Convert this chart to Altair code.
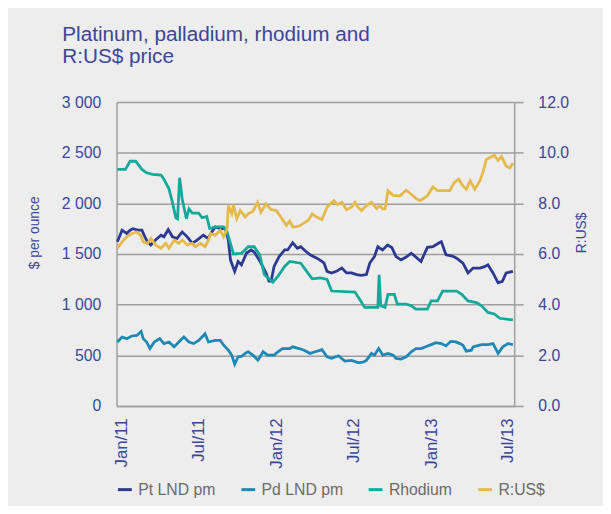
import altair as alt
import pandas as pd

# ---- data ----
pt_dates = ["2010-12-22", "2011-01-02", "2011-01-13", "2011-01-21", "2011-01-28", "2011-02-10", "2011-02-18",
            "2011-02-25", "2011-03-03", "2011-03-11", "2011-03-22", "2011-04-04", "2011-04-11", "2011-04-21",
            "2011-05-01", "2011-05-12", "2011-05-24", "2011-06-05", "2011-06-17", "2011-06-28", "2011-07-13",
            "2011-07-24", "2011-08-02", "2011-08-10", "2011-08-22", "2011-09-03", "2011-09-10", "2011-09-15",
            "2011-09-25", "2011-10-03", "2011-10-11", "2011-10-23", "2011-11-03", "2011-11-10", "2011-11-19",
            "2011-11-26", "2011-12-08", "2011-12-15", "2011-12-20", "2011-12-27", "2012-01-08", "2012-01-21",
            "2012-01-28", "2012-02-09", "2012-02-20", "2012-02-28", "2012-03-10", "2012-03-21", "2012-04-06",
            "2012-04-18", "2012-04-23", "2012-04-30", "2012-05-11", "2012-05-22", "2012-06-04", "2012-06-15",
            "2012-06-27", "2012-07-09", "2012-07-20", "2012-08-01", "2012-08-09", "2012-08-20", "2012-08-28",
            "2012-09-08", "2012-09-20", "2012-09-30", "2012-10-10", "2012-10-22", "2012-11-03", "2012-11-15",
            "2012-11-26", "2012-12-08", "2012-12-23", "2013-01-05", "2013-01-20", "2013-01-25", "2013-02-05",
            "2013-02-20", "2013-03-02", "2013-03-17", "2013-03-29", "2013-04-10", "2013-04-26", "2013-05-07",
            "2013-05-15", "2013-05-27", "2013-06-08", "2013-06-18", "2013-06-27", "2013-07-13"]
pt_vals = [1621, 1735, 1703, 1735, 1751, 1735, 1735,
           1670, 1621, 1589, 1638, 1686, 1670, 1742,
           1670, 1654, 1718, 1670, 1605, 1638, 1686,
           1654, 1718, 1767, 1751, 1751, 1638, 1443,
           1329, 1427, 1394, 1510, 1540, 1520, 1460,
           1411, 1313, 1232, 1232, 1378, 1475, 1540,
           1540, 1611, 1557, 1572, 1530, 1492, 1459,
           1427, 1411, 1329, 1313, 1329, 1362, 1313,
           1313, 1297, 1290, 1297, 1411, 1475, 1572,
           1540, 1589, 1565, 1475, 1443, 1470, 1508,
           1470, 1427, 1566, 1572, 1611, 1621, 1492,
           1480, 1459, 1411, 1313, 1362, 1362, 1375,
           1394, 1313, 1216, 1230, 1313, 1329]

pd_dates = ["2010-12-22", "2011-01-02", "2011-01-13", "2011-01-25", "2011-02-06", "2011-02-16", "2011-02-21",
            "2011-03-01", "2011-03-09", "2011-03-19", "2011-04-01", "2011-04-11", "2011-04-23", "2011-05-05",
            "2011-05-16", "2011-05-28", "2011-06-09", "2011-06-20", "2011-07-02", "2011-07-17", "2011-07-25",
            "2011-08-10", "2011-08-22", "2011-08-30", "2011-09-10", "2011-09-18", "2011-09-25", "2011-10-03",
            "2011-10-11", "2011-10-23", "2011-10-27", "2011-11-07", "2011-11-19", "2011-12-01", "2011-12-12",
            "2011-12-27", "2012-01-05", "2012-01-16", "2012-02-02", "2012-02-09", "2012-02-24", "2012-03-07",
            "2012-03-21", "2012-04-02", "2012-04-15", "2012-04-18", "2012-04-30", "2012-05-11", "2012-05-27",
            "2012-06-11", "2012-06-27", "2012-07-12", "2012-07-24", "2012-08-01", "2012-08-13", "2012-08-20",
            "2012-08-30", "2012-09-09", "2012-09-21", "2012-10-03", "2012-10-10", "2012-10-22", "2012-11-03",
            "2012-11-15", "2012-11-26", "2012-12-08", "2012-12-19", "2013-01-01", "2013-01-12", "2013-01-25",
            "2013-02-05", "2013-02-16", "2013-02-28", "2013-03-10", "2013-03-17", "2013-03-25", "2013-04-06",
            "2013-04-10", "2013-04-30", "2013-05-15", "2013-05-27", "2013-06-08", "2013-06-19", "2013-07-01",
            "2013-07-13"]
pd_vals = [632, 681, 665, 691, 697, 736, 665,
           632, 567, 632, 665, 616, 632, 584,
           632, 681, 632, 616, 648, 713, 632,
           648, 648, 600, 551, 502, 412, 486,
           490, 528, 535, 502, 453, 535, 502,
           502, 535, 567, 567, 584, 567, 551,
           519, 535, 551, 558, 486, 470, 496,
           444, 450, 428, 432, 450, 519, 502,
           567, 502, 519, 502, 470, 463, 486,
           535, 567, 567, 584, 606, 625, 616,
           593, 638, 632, 616, 600, 541, 551,
           584, 606, 606, 616, 519, 584, 616,
           606]

rh_dates = ["2010-12-22", "2011-01-10", "2011-01-21", "2011-02-03", "2011-02-18", "2011-03-01", "2011-03-15",
            "2011-04-04", "2011-04-11", "2011-04-23", "2011-05-01", "2011-05-09", "2011-05-13", "2011-05-18",
            "2011-05-24", "2011-06-03", "2011-06-09", "2011-06-17", "2011-07-02", "2011-07-10", "2011-07-21",
            "2011-07-28", "2011-08-10", "2011-08-30", "2011-09-07", "2011-09-15", "2011-09-22", "2011-10-11",
            "2011-10-27", "2011-11-10", "2011-11-23", "2011-12-04", "2011-12-24", "2012-01-05", "2012-01-21",
            "2012-02-02", "2012-02-28", "2012-03-10", "2012-03-26", "2012-04-15", "2012-04-30", "2012-05-11",
            "2012-07-05", "2012-07-16", "2012-07-28", "2012-08-28", "2012-08-31", "2012-09-04", "2012-09-14",
            "2012-09-21", "2012-10-06", "2012-10-13", "2012-11-03", "2012-11-15", "2012-11-26", "2012-12-23",
            "2013-01-01", "2013-01-16", "2013-01-28", "2013-03-02", "2013-03-14", "2013-03-29", "2013-04-18",
            "2013-04-30", "2013-05-15", "2013-05-30", "2013-06-12", "2013-07-13"]
rh_vals = [2335, 2335, 2416, 2416, 2335, 2302, 2287,
           2280, 2238, 2141, 2010, 1858, 1848, 2253,
           2043, 1848, 1946, 1903, 1903, 1858, 1871,
           1751, 1767, 1767, 1718, 1605, 1501, 1507,
           1572, 1572, 1492, 1297, 1222, 1280, 1378,
           1427, 1410, 1346, 1255, 1265, 1249, 1135,
           1125, 1054, 973, 973, 1295, 989, 973,
           1102, 1102, 1005, 1005, 989, 956, 956,
           1037, 1037, 1135, 1135, 1102, 1037, 1021,
           989, 924, 908, 866, 849]

fx_dates = ["2010-12-22", "2011-01-02", "2011-01-13", "2011-01-25", "2011-02-06", "2011-02-15", "2011-02-21",
            "2011-03-03", "2011-03-11", "2011-03-22", "2011-04-04", "2011-04-15", "2011-04-23", "2011-05-05",
            "2011-05-16", "2011-05-24", "2011-06-05", "2011-06-17", "2011-06-24", "2011-07-06", "2011-07-17",
            "2011-07-25", "2011-07-30", "2011-08-10", "2011-08-22", "2011-08-30", "2011-09-07", "2011-09-10",
            "2011-09-18", "2011-09-22", "2011-09-30", "2011-10-08", "2011-10-20", "2011-10-27", "2011-11-07",
            "2011-11-18", "2011-11-26", "2011-12-08", "2011-12-20", "2012-01-01", "2012-01-12", "2012-01-25",
            "2012-02-02", "2012-02-09", "2012-02-24", "2012-03-10", "2012-03-17", "2012-03-26", "2012-04-06",
            "2012-04-18", "2012-04-30", "2012-05-09", "2012-05-16", "2012-05-25", "2012-06-04", "2012-06-15",
            "2012-06-27", "2012-07-05", "2012-07-12", "2012-07-20", "2012-08-01", "2012-08-13", "2012-08-25",
            "2012-09-02", "2012-09-08", "2012-09-14", "2012-09-21", "2012-10-03", "2012-10-19", "2012-11-03",
            "2012-11-15", "2012-11-26", "2012-12-05", "2012-12-12", "2012-12-23", "2013-01-05", "2013-01-16",
            "2013-02-02", "2013-02-14", "2013-02-24", "2013-03-07", "2013-03-17", "2013-03-25", "2013-04-03",
            "2013-04-14", "2013-04-26", "2013-05-04", "2013-05-11", "2013-05-19", "2013-05-30", "2013-06-08",
            "2013-06-16", "2013-06-27", "2013-07-06", "2013-07-13"]
fx_vals = [6.23, 6.48, 6.68, 6.81, 6.87, 6.74, 6.48,
           6.42, 6.62, 6.36, 6.23, 6.42, 6.23, 6.55,
           6.42, 6.55, 6.36, 6.42, 6.29, 6.42, 6.29,
           6.55, 6.81, 6.74, 6.94, 6.68, 7.00, 7.91,
           7.59, 7.95, 7.40, 7.72, 7.46, 7.60, 7.68,
           8.04, 7.65, 7.98, 7.75, 7.72, 7.46, 7.13,
           7.30, 7.07, 7.10, 7.26, 7.33, 7.59, 7.46,
           7.36, 7.85, 8.00, 8.11, 7.95, 8.04, 7.75,
           7.85, 8.04, 7.85, 7.72, 7.91, 8.04, 7.80,
           7.91, 7.78, 7.78, 8.50, 8.32, 8.30, 8.52,
           8.36, 8.20, 8.11, 8.17, 8.30, 8.65, 8.50,
           8.50, 8.50, 8.82, 8.95, 8.69, 8.56, 8.89,
           8.56, 8.89, 9.27, 9.73, 9.80, 9.90, 9.70,
           9.85, 9.47, 9.40, 9.60]

series_names = ["Pt LND pm", "Pd LND pm", "Rhodium", "R:US$"]
series_colors = ["#2B3990", "#1C88B6", "#14A99B", "#E5B94A"]
left_ticks = [0, 500, 1000, 1500, 2000, 2500, 3000]
right_ticks = [0, 2, 4, 6, 8, 10, 12]
title_lines = ["Platinum, palladium, rhodium and", "R:US$ price"]

metals = pd.concat([
    pd.DataFrame({"date": pd.to_datetime(pt_dates), "value": pt_vals, "series": series_names[0]}),
    pd.DataFrame({"date": pd.to_datetime(pd_dates), "value": pd_vals, "series": series_names[1]}),
    pd.DataFrame({"date": pd.to_datetime(rh_dates), "value": rh_vals, "series": series_names[2]}),
], ignore_index=True)
fx = pd.DataFrame({"date": pd.to_datetime(fx_dates), "value": fx_vals, "series": series_names[3]})

FONT = "Liberation Sans"
NAVY = "#3B469A"
GRID = "#9E9E9E"

x_ticks = [alt.DateTime(year=y, month=m, date=1) for (y, m) in
           [(2011, 1), (2011, 7), (2012, 1), (2012, 7), (2013, 1), (2013, 7)]]

x_enc = alt.X(
    "date:T",
    scale=alt.Scale(domain=[alt.DateTime(year=2010, month=12, date=20),
                            alt.DateTime(year=2013, month=7, date=16)], nice=False),
    axis=alt.Axis(values=x_ticks, format="%b/%y", labelAngle=-90, title=None, ticks=False,
                  grid=False, domainColor=GRID, domainWidth=1.5, labelPadding=12,
                  labelFontSize=17, labelColor=NAVY, labelFont=FONT),
)

color_enc = alt.Color(
    "series:N",
    scale=alt.Scale(domain=series_names, range=series_colors),
    legend=alt.Legend(orient="none", legendX=0, legendY=384, direction="horizontal", columns=4,
                      title=None, symbolType="stroke", symbolSize=196, symbolStrokeWidth=3,
                      labelFontSize=16, labelColor="#6B6B6B", labelFont=FONT,
                      columnPadding=19, labelOffset=5),
)

left = alt.Chart(metals).mark_line(strokeWidth=2.8).encode(
    x=x_enc,
    y=alt.Y("value:Q", scale=alt.Scale(domain=[0, 3000], nice=False),
            axis=alt.Axis(values=left_ticks, orient="left",
                          labelExpr="replace(format(datum.value, ','), ',', ' ')",
                          title="$ per ounce", titleX=-83, titleY=132, titleAngle=-90,
                          titleBaseline="middle", titleAlign="center", titleFontSize=14,
                          titleFontWeight="normal", titleColor=NAVY, titleFont=FONT,
                          grid=True, gridColor=GRID, gridWidth=1.5, domainColor=GRID, domainWidth=1.5,
                          ticks=False, labelPadding=16, labelFontSize=16, labelColor=NAVY,
                          labelFont=FONT)),
    color=color_enc,
)

right = alt.Chart(fx).mark_line(strokeWidth=2.8).encode(
    x=x_enc,
    y=alt.Y("value:Q", scale=alt.Scale(domain=[0, 12], nice=False),
            axis=alt.Axis(values=right_ticks, orient="right", format=".1f",
                          title="R:US$", titleX=68, titleY=132, titleAngle=-90,
                          titleBaseline="middle", titleAlign="center", titleFontSize=14,
                          titleFontWeight="normal", titleColor=NAVY, titleFont=FONT,
                          grid=False, domainColor=GRID, domainWidth=1.5,
                          ticks=True, tickSize=9, tickColor=GRID, tickWidth=1.5,
                          labelPadding=15, labelFontSize=16, labelColor=NAVY, labelFont=FONT)),
    color=color_enc,
)

chart = alt.layer(left, right).resolve_scale(y="independent").properties(
    width=403,
    height=308,
    padding={"left": 110, "top": 92, "right": 90, "bottom": 98},
    autosize=alt.AutoSizeParams(type="none"),
    title=alt.Title(title_lines, anchor="start", frame="group", dx=-55, offset=28,
                    fontSize=21, fontWeight="normal", color=NAVY, font=FONT, lineHeight=21.6),
).configure(background="#EDEDED").configure_view(stroke=None)

chart.save("out.html", embed_options={"renderer": "svg", "actions": False})
